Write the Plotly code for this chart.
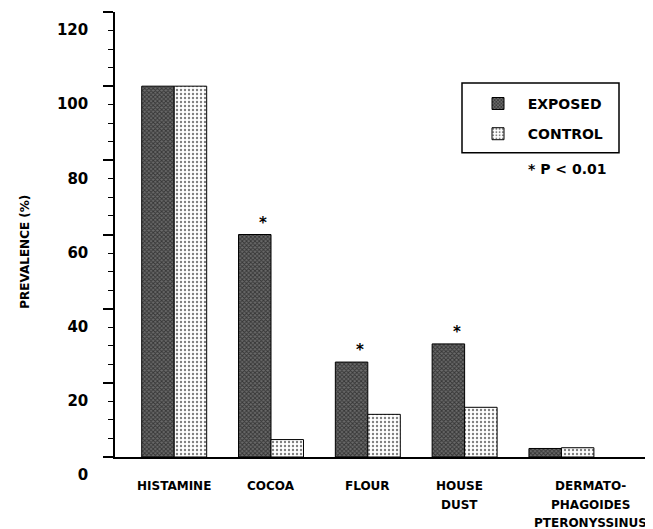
import plotly.graph_objects as go

categories = ["HISTAMINE", "COCOA", "FLOUR", "HOUSE<br>DUST", "DERMATO-<br>PHAGOIDES<br>PTERONYSSINUS"]
exposed = [100, 60, 25.6, 30.5, 2.3]
control = [100, 4.7, 11.5, 13.4, 2.5]
significant = [False, True, True, True, False]
y_tickvals = [0, 20, 40, 60, 80, 100, 120]
y_ticktext = ["0", "20", "40", "60", "80", "100", "120"]

# page body has an 8px margin; the figure is sized to fill the 653x529 window
OFF = 8
W, H = 653 - OFF, 529 - OFF
PLOT_L, PLOT_R, PLOT_T, PLOT_B = 115, 653, 12, 457.5  # page pixel coords
ML, MR = PLOT_L - OFF, 653 - PLOT_R
MT, MB = PLOT_T - OFF, 529 - PLOT_B
PW, PH = PLOT_R - PLOT_L, PLOT_B - PLOT_T

def px_x(px):
    return (px - PLOT_L) / PW

def px_y(py):
    return (PLOT_B - py) / PH

FONT = "DejaVu Sans"
xs = list(range(len(categories)))

fig = go.Figure()
fig.add_trace(go.Bar(
    x=xs, y=exposed, name="\u00a0\u00a0EXPOSED", legendgroup="a",
    marker=dict(color="#555", line=dict(color="black", width=1),
                pattern=dict(shape="x", size=3, solidity=0.5, fgcolor="#000", bgcolor="#6a6a6a")),
))
fig.add_trace(go.Bar(
    x=xs, y=control, name="\u00a0\u00a0CONTROL", legendgroup="b",
    marker=dict(color="white", line=dict(color="black", width=1),
                pattern=dict(shape=".", size=4, solidity=0.28, fgcolor="black", bgcolor="white")),
))

annotations = []
for i, lab in enumerate(categories):
    lines = lab.split("<br>")
    xshift = 29 if i == 4 else (-5 if i == 3 else 0)
    for k, line in enumerate(lines):
        annotations.append(dict(
            x=i, y=0, xref="x", yref="y", text=line, showarrow=False,
            xanchor="center", yanchor="middle", xshift=xshift, yshift=-(29 + 18.5 * k),
            font=dict(family=FONT, size=12, color="black", weight="bold"),
        ))
for i, (v, s) in enumerate(zip(exposed, significant)):
    if s:
        annotations.append(dict(
            x=i, y=v, xref="x", yref="y", text="*", showarrow=False,
            xanchor="center", yanchor="middle", xshift=-8, yshift=12,
            font=dict(family=FONT, size=15, color="black", weight="bold"),
        ))
annotations.append(dict(
    x=px_x(567), y=px_y(169), xref="paper", yref="paper", text="* P < 0.01",
    showarrow=False, xanchor="center", yanchor="middle",
    font=dict(family=FONT, size=14, color="black", weight="bold"),
))
annotations.append(dict(
    x=px_x(25), y=px_y(252), xref="paper", yref="paper", text="PREVALENCE (%)",
    showarrow=False, xanchor="center", yanchor="middle", textangle=-90,
    font=dict(family=FONT, size=12, color="black", weight="bold"),
))

fig.update_layout(
    width=W, height=H,
    margin=dict(l=ML, r=MR, t=MT, b=MB, pad=0, autoexpand=False),
    paper_bgcolor="white", plot_bgcolor="white",
    barmode="group", bargap=0.329, bargroupgap=0,
    showlegend=True,
    legend=dict(
        x=px_x(478), y=px_y(88), xanchor="left", yanchor="top",
        bgcolor="rgba(0,0,0,0)", borderwidth=0,
        font=dict(family=FONT, size=14, color="black", weight="bold"),
        traceorder="grouped", tracegroupgap=9, itemwidth=30,
    ),
    xaxis=dict(
        range=[-0.6116, 4.946], showline=True, linecolor="black", linewidth=1.5,
        showticklabels=False, ticks="", showgrid=False, zeroline=False, fixedrange=True,
        automargin=False,
    ),
    yaxis=dict(
        range=[0, 120], showline=True, linecolor="black", linewidth=1.5,
        tickmode="array", tickvals=y_tickvals, ticktext=y_ticktext,
        ticks="outside", ticklen=10, tickwidth=1.5, tickcolor="black",
        minor=dict(dtick=5, ticks="outside", ticklen=5, tickwidth=1, tickcolor="black", showgrid=False),
        showgrid=False, zeroline=False, automargin=False,
        ticklabelshift=18, ticklabelstandoff=12,
        tickfont=dict(family=FONT, size=15, color="black", weight="bold"),
    ),
    shapes=[dict(type="rect", xref="paper", yref="paper",
                 x0=px_x(462), x1=px_x(619), y0=px_y(153), y1=px_y(83),
                 line=dict(color="black", width=1.5), fillcolor="rgba(0,0,0,0)")],
    annotations=annotations,
)

fig.write_html("out.html")
